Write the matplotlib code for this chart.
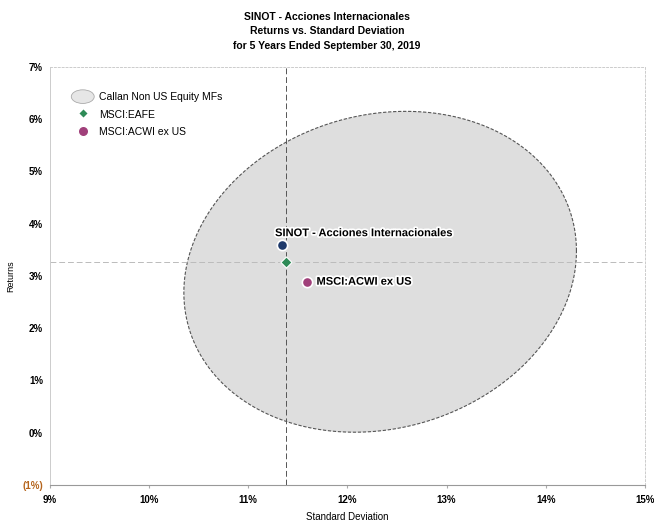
import numpy as np
import matplotlib.pyplot as plt
import matplotlib.patheffects as pe
from matplotlib.lines import Line2D
from matplotlib.patches import Ellipse
from matplotlib.legend_handler import HandlerPatch

plt.rcParams['font.family'] = ['Liberation Sans Narrow', 'Liberation Sans', 'DejaVu Sans']

# Data (standard deviation %, return %)
portfolio_name = "SINOT - Acciones Internacionales"
portfolio_sd = 11.34
portfolio_ret = 3.59

eafe_name = "MSCI:EAFE"
eafe_sd = 11.38
eafe_ret = 3.27

acwi_name = "MSCI:ACWI ex US"
acwi_sd = 11.59
acwi_ret = 2.89

# Peer group ellipse (Callan Non US Equity MFs)
peer_name = "Callan Non US Equity MFs"
peer_center = (12.33, 3.08)
peer_half_sd = 1.98
peer_half_ret = 3.07
peer_tilt = 0.13  # sin of phase shift -> tilt of the ellipse

x_ticks = [9, 10, 11, 12, 13, 14, 15]
y_ticks = [-1, 0, 1, 2, 3, 4, 5, 6, 7]


class HandlerEllipse(HandlerPatch):
    def create_artists(self, legend, orig_handle, xdescent, ydescent,
                       width, height, fontsize, trans):
        p = Ellipse((0.5 * width - xdescent, 0.5 * height - ydescent),
                    width, height * 1.2)
        self.update_prop(p, orig_handle, legend)
        p.set_transform(trans)
        return [p]


fig = plt.figure(figsize=(6.54, 5.23), dpi=100)
ax = fig.add_axes([0.0765, 0.0727, 0.9095, 0.7993])
ax.set_xlim(9, 15)
ax.set_ylim(-1, 7)

# peer group ellipse
t = np.linspace(0, 2 * np.pi, 400)
psi = np.arcsin(peer_tilt)
ex = peer_center[0] + peer_half_sd * np.cos(t)
ey = peer_center[1] + peer_half_ret * np.sin(t + psi)
ax.fill(ex, ey, facecolor='#dedede', edgecolor='#555555', lw=0.8,
        linestyle=(0, (3, 1.5)), zorder=1)

# crosshair through the index
ax.axvline(eafe_sd, color='#555555', lw=0.7, linestyle=(0, (6, 3)), zorder=2)
ax.axhline(eafe_ret, color='#bbbbbb', lw=0.7, linestyle=(0, (6, 3)), zorder=2)

ax.scatter([portfolio_sd], [portfolio_ret], s=55, color='#1f3a6b',
           edgecolors='white', linewidths=1.2, zorder=5)
ax.scatter([eafe_sd], [eafe_ret], s=32, marker='D', color='#2e8b57',
           edgecolors='white', linewidths=0.8, zorder=5)
ax.scatter([acwi_sd], [acwi_ret], s=55, color='#a0407a',
           edgecolors='white', linewidths=1.2, zorder=5)

halo = [pe.withStroke(linewidth=2.5, foreground='white')]
ax.annotate(portfolio_name, (portfolio_sd, portfolio_ret), xytext=(-5, 5),
            textcoords='offset points', fontsize=8, fontweight='bold',
            va='bottom', ha='left', path_effects=halo, zorder=6)
ax.annotate(acwi_name, (acwi_sd, acwi_ret), xytext=(7, 0),
            textcoords='offset points', fontsize=8, fontweight='bold',
            va='center', ha='left', path_effects=halo, zorder=6)

# axes styling
ax.set_xticks(x_ticks)
ax.set_yticks(y_ticks)
ax.set_xticklabels([f"{v}%" for v in x_ticks])
ylabels = [f"({abs(v)}%)" if v < 0 else f"{v}%" for v in y_ticks]
ax.set_yticklabels(ylabels)
for lab in ax.get_yticklabels():
    if lab.get_text().startswith('('):
        lab.set_color('#b5651d')
ax.tick_params(axis='both', labelsize=7, length=2, color='#aaaaaa')
ax.tick_params(axis='x', pad=5)
ax.tick_params(axis='y', length=0, pad=5)
for lab in ax.get_xticklabels() + ax.get_yticklabels():
    lab.set_fontweight('bold')

for side in ['top', 'right']:
    ax.spines[side].set_color('#cccccc')
    ax.spines[side].set_linestyle((0, (2, 2)))
    ax.spines[side].set_linewidth(0.7)
ax.spines['left'].set_color('#cccccc')
ax.spines['left'].set_linewidth(0.7)
ax.spines['bottom'].set_color('#999999')
ax.spines['bottom'].set_linewidth(0.8)

ax.set_xlabel("Standard Deviation", fontsize=7, labelpad=5)
ax.set_ylabel("Returns", fontsize=6.5)
ax.yaxis.set_label_coords(-0.058, 0.5)

fig.text(0.5, 0.978, "SINOT - Acciones Internacionales\nReturns vs. Standard Deviation\n"
         "for 5 Years Ended September 30, 2019", ha='center', va='top',
         fontsize=7.5, fontweight='bold', linespacing=1.6)

handles = [
    Ellipse((0, 0), 1, 1, facecolor='#e6e6e6', edgecolor='#aaaaaa', lw=0.6),
    Line2D([], [], marker='D', color='#2e8b57', linestyle='none', markersize=5.5,
           markeredgecolor='white'),
    Line2D([], [], marker='o', color='#a0407a', linestyle='none', markersize=7.5,
           markeredgecolor='white'),
]
leg = ax.legend(handles, [peer_name, eafe_name, acwi_name], loc='upper left',
                bbox_to_anchor=(0.02, 0.965), frameon=False, fontsize=7.5,
                handlelength=2.2, handleheight=1.3, labelspacing=0.6,
                handletextpad=0.5,
                handler_map={Ellipse: HandlerEllipse()})

fig.savefig("out.png", dpi=100, facecolor='white')
